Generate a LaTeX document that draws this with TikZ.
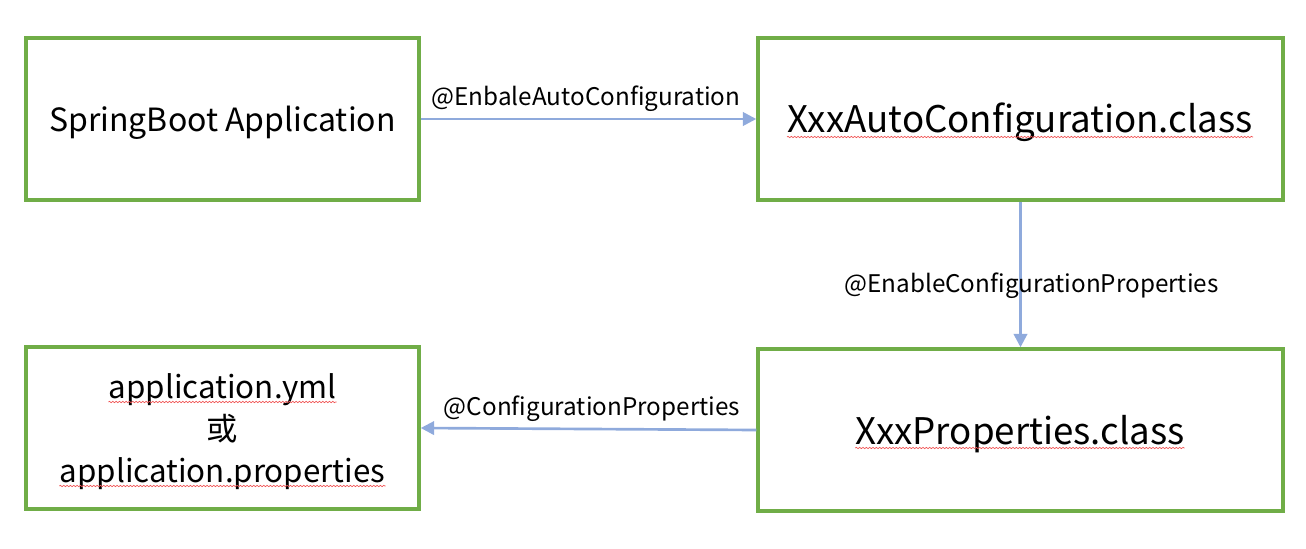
\documentclass[tikz,border=0pt]{standalone}
\usepackage{fontspec}
\setmainfont{Noto Sans CJK SC}
\usetikzlibrary{arrows.meta, positioning, decorations.pathmorphing}
\definecolor{boxgreen}{HTML}{70AD47}
\definecolor{flowblue}{HTML}{8FAADC}
\definecolor{spellred}{HTML}{F05050}
\tikzset{
  % Box and connector styles
  cfgbox/.style={rectangle, draw=boxgreen, line width=2.6pt, minimum height=121.5pt, inner sep=0pt},
  narrowbox/.style={cfgbox, minimum width=294.75pt},
  widebox/.style={cfgbox, minimum width=393.75pt},
  boxtext/.style={inner sep=0pt, anchor=base, font=\fontsize{#1}{#1}\selectfont},
  flow/.style={-{Triangle[length=10pt, width=10pt]}, draw=flowblue, line width=2pt},
  flowlabel/.style={inner sep=0pt, anchor=base, font=\fontsize{18.2pt}{20pt}\selectfont},
  spell/.style={decorate, decoration={snake, amplitude=0.5pt, segment length=2.5pt}, draw=spellred, line width=0.5pt},
}
\begin{document}
\begin{tikzpicture}[x=0.75pt, y=-0.75pt]
    \useasboundingbox (0,0) rectangle (1306,549);

    % Boxes
    \node[narrowbox] (spring) at (222.5, 119) {};
    \node[widebox] (auto) at (1020.5, 119) {};
    \node[narrowbox] (yml) at (222.5, 428) {};
    \node[widebox] (props) at (1020.5, 430) {};

    % Box texts
    \node[boxtext=24pt] (springtxt) at (222.5, 132) {SpringBoot Application};
    \node[boxtext=27.5pt] (autotxt) at (1020, 133) {XxxAutoConfiguration.class};
    \node[boxtext=27.5pt] (propstxt) at (1020, 444) {XxxProperties.class};
    \node[boxtext=23.5pt] (ymltxt) at (222.5, 398) {application.yml};
    \node[boxtext=23.5pt] (ortxt) at (222.5, 440) {或};
    \node[boxtext=23.5pt] (proptxt) at (222.5, 482) {application.properties};

    % Spell-check underlines
    \draw[spell] ([yshift=-3pt]autotxt.base west) -- ([yshift=-3pt]autotxt.base east);
    \draw[spell] ([yshift=-3pt]propstxt.base west) -- ([yshift=-3pt]propstxt.base east);
    \draw[spell] ([yshift=-3pt]ymltxt.base west) -- ([yshift=-3pt]ymltxt.base east);
    \draw[spell] ([yshift=-3pt]proptxt.base west) -- ([yshift=-3pt]proptxt.base east);

    % Connectors
    \draw[flow] (spring.east) -- (auto.west);
    \node[flowlabel] (enable) at (586, 106) {@EnbaleAutoConfiguration};
    \draw[flow] (auto.south) -- (props.north);
    \node[flowlabel] (ecp) at (1031.5, 292) {@EnableConfigurationProperties};
    \draw[flow] (props.west) -- (yml.east);
    \node[flowlabel] (cp) at (592, 415) {@ConfigurationProperties};
\end{tikzpicture}
\end{document}
